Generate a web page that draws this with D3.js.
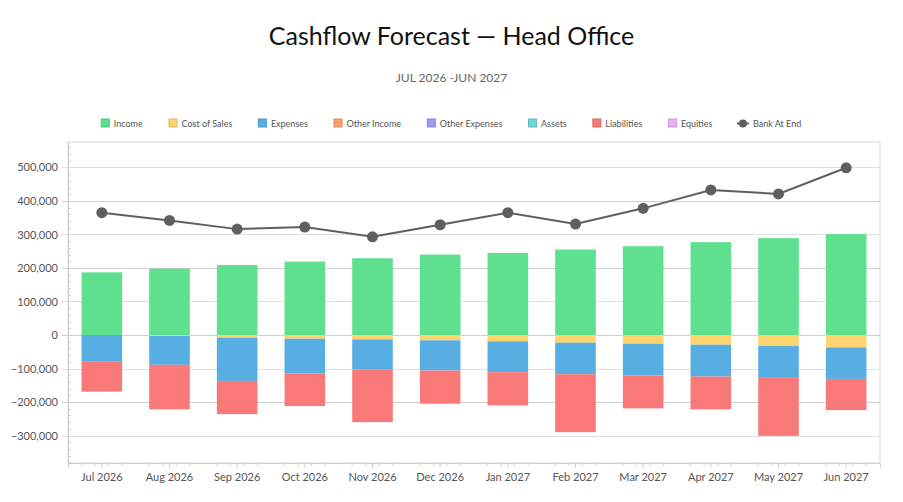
<!DOCTYPE html>
<html>
<head>
<meta charset="utf-8">
<script src="https://cdn.jsdelivr.net/npm/d3@7"></script>
<style>
  body { margin: 0; background: #fff; }
  svg { display: block; font-family: Lato, "Noto Sans", sans-serif; }
</style>
</head>
<body>
<div id="chart"></div>
<script>
// Chart data
const months = ['Jul 2026', 'Aug 2026', 'Sep 2026', 'Oct 2026', 'Nov 2026', 'Dec 2026',
  'Jan 2027', 'Feb 2027', 'Mar 2027', 'Apr 2027', 'May 2027', 'Jun 2027'];
const income = [187000, 198000, 209000, 219000, 229000, 240000, 245000, 255000, 265000, 277000, 289000, 301000];
const costOfSales = [0, -3000, -8000, -11000, -13000, -16000, -19000, -23000, -26000, -29000, -33000, -37000];
const expenses = [-78000, -86000, -129000, -104000, -90000, -90000, -92000, -94000, -95000, -95000, -95000, -94000];
const otherIncome = [0, 0, 0, 0, 0, 0, 0, 0, 0, 0, 0, 0];
const otherExpenses = [0, 0, 0, 0, 0, 0, 0, 0, 0, 0, 0, 0];
const assets = [0, 0, 0, 0, 0, 0, 0, 0, 0, 0, 0, 0];
const liabilities = [-91000, -133000, -99000, -97000, -157000, -99000, -99000, -173000, -98000, -98000, -173000, -93000];
const equities = [0, 0, 0, 0, 0, 0, 0, 0, 0, 0, 0, 0];
const bankAtEnd = [365000, 342000, 316000, 322000, 293000, 329000, 365000, 331000, 378000, 433000, 421000, 499000];
const yTicks = [-300000, -200000, -100000, 0, 100000, 200000, 300000, 400000, 500000];

const series = [
  { key: 'Income', values: income, color: '#5fe08f' },
  { key: 'Cost of Sales', values: costOfSales, color: '#fed46f' },
  { key: 'Expenses', values: expenses, color: '#56aee3' },
  { key: 'Other Income', values: otherIncome, color: '#f9a06b' },
  { key: 'Other Expenses', values: otherExpenses, color: '#9d99ef' },
  { key: 'Assets', values: assets, color: '#6fd7dc' },
  { key: 'Liabilities', values: liabilities, color: '#f97979' },
  { key: 'Equities', values: equities, color: '#e8b1f6' }
];
const lineColor = '#5f5f5f';

const width = 903, height = 502;
const margin = { top: 142, right: 23, bottom: 39, left: 68 };

const svg = d3.select('#chart').append('svg')
  .attr('width', width)
  .attr('height', height);

// Titles
svg.append('text')
  .attr('x', width / 2).attr('y', 45)
  .attr('text-anchor', 'middle')
  .attr('font-size', '25px')
  .attr('fill', '#111')
  .text('Cashflow Forecast \u2014 Head Office');

svg.append('text')
  .attr('x', width / 2).attr('y', 82)
  .attr('text-anchor', 'middle')
  .attr('font-size', '12px')
  .attr('fill', '#666')
  .text('JUL 2026 -JUN 2027');

// Table for stacking
const table = months.map((m, i) => {
  const row = { month: m };
  series.forEach(s => { row[s.key] = s.values[i]; });
  return row;
});

const stack = d3.stack()
  .keys(series.map(s => s.key))
  .offset(d3.stackOffsetDiverging);
const stacked = stack(table);

const x = d3.scaleBand()
  .domain(months)
  .range([margin.left, width - margin.right])
  .paddingInner(0.4)
  .paddingOuter(0.2);

const y = d3.scaleLinear()
  .domain([-382000, 576000])
  .range([height - margin.bottom, margin.top]);

// Plot border
svg.append('rect')
  .attr('x', margin.left).attr('y', margin.top)
  .attr('width', width - margin.left - margin.right)
  .attr('height', height - margin.top - margin.bottom)
  .attr('fill', 'none')
  .attr('stroke', '#dadada');

// Grid lines
svg.append('g')
  .attr('class', 'grid')
  .selectAll('line')
  .data(yTicks)
  .enter()
  .append('line')
  .attr('x1', margin.left - 6)
  .attr('x2', width - margin.right)
  .attr('y1', d => Math.round(y(d)) + 0.5)
  .attr('y2', d => Math.round(y(d)) + 0.5)
  .attr('stroke', d => (d % 200000 === 0) ? '#cfcfcf' : '#e0e0e0');

// Y axis
const yAxis = d3.axisLeft(y)
  .tickValues(yTicks)
  .tickSize(0)
  .tickPadding(10)
  .tickFormat(d3.format(','));

const gy = svg.append('g')
  .attr('transform', `translate(${margin.left},0)`)
  .call(yAxis);
gy.select('.domain').attr('stroke', '#cfcfcf');
gy.selectAll('text').attr('font-size', '11px').attr('fill', '#555').attr('font-family', 'Lato, "Noto Sans", sans-serif');

// Y minor ticks
const yMinor = d3.range(-380000, 576000, 20000).filter(v => v % 100000 !== 0);
svg.append('g')
  .selectAll('line')
  .data(yMinor)
  .enter()
  .append('line')
  .attr('x1', margin.left).attr('x2', margin.left + 3)
  .attr('y1', d => Math.round(y(d)) + 0.5)
  .attr('y2', d => Math.round(y(d)) + 0.5)
  .attr('stroke', '#cfcfcf');

// X axis
const xAxis = d3.axisBottom(x).tickSize(5).tickPadding(5);
const gx = svg.append('g')
  .attr('transform', `translate(0,${height - margin.bottom})`)
  .call(xAxis);
gx.select('.domain').attr('stroke', '#cfcfcf');
gx.selectAll('.tick line').attr('stroke', '#cfcfcf');
gx.selectAll('text').attr('font-size', '11px').attr('fill', '#555').attr('font-family', 'Lato, "Noto Sans", sans-serif');

// X minor ticks (5 per category)
const xMinor = [];
months.forEach(m => {
  for (let k = 1; k < 5; k++) {
    xMinor.push(x(m) + x.bandwidth() / 2 - x.step() / 2 + k * x.step() / 5);
  }
});
svg.append('g')
  .selectAll('line')
  .data(xMinor)
  .enter()
  .append('line')
  .attr('x1', d => d).attr('x2', d => d)
  .attr('y1', height - margin.bottom)
  .attr('y2', height - margin.bottom + 3)
  .attr('stroke', '#d5d5d5');

// Bars
const colorOf = key => series.find(s => s.key === key).color;
svg.append('g')
  .selectAll('g')
  .data(stacked)
  .enter()
  .append('g')
  .attr('fill', d => colorOf(d.key))
  .selectAll('rect')
  .data(d => d)
  .enter()
  .append('rect')
  .attr('x', d => x(d.data.month))
  .attr('width', x.bandwidth())
  .attr('y', d => y(Math.max(d[0], d[1])))
  .attr('height', d => Math.abs(y(d[0]) - y(d[1])));

// Bank At End line
const line = d3.line()
  .x((d, i) => x(months[i]) + x.bandwidth() / 2)
  .y(d => y(d));

svg.append('path')
  .datum(bankAtEnd)
  .attr('d', line)
  .attr('fill', 'none')
  .attr('stroke', lineColor)
  .attr('stroke-width', 2);

svg.append('g')
  .selectAll('circle')
  .data(bankAtEnd)
  .enter()
  .append('circle')
  .attr('cx', (d, i) => x(months[i]) + x.bandwidth() / 2)
  .attr('cy', d => y(d))
  .attr('r', 5.5)
  .attr('fill', lineColor);

// Legend, centred
const legendItems = series.map(s => ({ key: s.key, color: s.color, type: 'box' }))
  .concat([{ key: 'Bank At End', color: lineColor, type: 'line' }]);
const legendY = 123.5;
const legend = svg.append('g').attr('class', 'legend');
const items = legend.selectAll('g')
  .data(legendItems)
  .enter()
  .append('g');

items.each(function (d) {
  const g = d3.select(this);
  if (d.type === 'box') {
    g.append('rect')
      .attr('x', 0.5).attr('y', legendY - 4.5)
      .attr('width', 8).attr('height', 8)
      .attr('fill', d.color)
      .attr('stroke', d3.color(d.color).darker(0.4));
  } else {
    g.append('line')
      .attr('x1', -1).attr('x2', 11)
      .attr('y1', legendY).attr('y2', legendY)
      .attr('stroke', d.color).attr('stroke-width', 2);
    g.append('circle')
      .attr('cx', 5).attr('cy', legendY).attr('r', 4)
      .attr('fill', d.color);
  }
  g.append('text')
    .attr('x', d.type === 'box' ? 13 : 15)
    .attr('y', legendY)
    .attr('dy', '0.35em')
    .attr('font-size', '9px')
    .attr('fill', '#555')
    .text(d.key);
});

// Position legend items based on their measured width
const gap = 26;
let cursor = 0;
const offsets = [];
items.each(function () {
  offsets.push(cursor);
  cursor += this.getBBox().width + gap;
});
const totalWidth = cursor - gap;
const startX = width / 2 - totalWidth / 2;
items.attr('transform', (d, i) => `translate(${startX + offsets[i]},0)`);
</script>
</body>
</html>
